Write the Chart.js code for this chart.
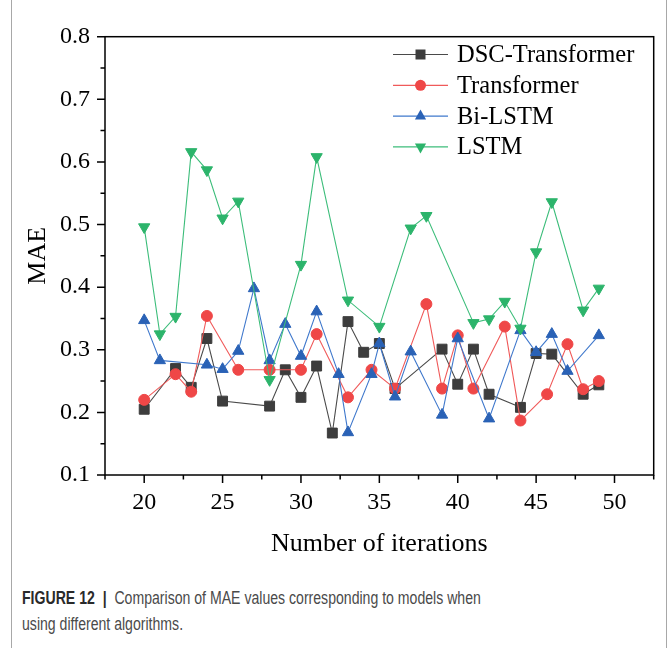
<!DOCTYPE html>
<html>
<head>
<meta charset="utf-8">
<script src="https://cdn.jsdelivr.net/npm/chart.js@4/dist/chart.umd.min.js"></script>
<style>
  body { margin: 0; background: #fff; }
  #wrap { position: relative; width: 669px; height: 648px; overflow: hidden; }
  #frame { position: absolute; left: 11px; top: -2px; width: 654px; height: 660px;
           border-left: 1px solid #a8a8a8; border-right: 1px solid #a8a8a8; }
  #chart { position: absolute; left: 0; top: 0; }
  #caption { position: absolute; left: 22px; top: 585px; font-family: "Liberation Sans", Arial, sans-serif;
             font-size: 17.5px; line-height: 26px; color: #4a4a4a; white-space: nowrap;
             transform-origin: 0 0; transform: scaleX(0.805); }
  #caption b { color: #2a2a2a; }
</style>
</head>
<body>
<div id="wrap">
  <div id="frame"></div>
  <canvas id="chart" width="669" height="560"></canvas>
  <div id="caption"><b>FIGURE 12 &nbsp;|&nbsp; </b>Comparison of MAE values corresponding to models when<br>using different algorithms.</div>
</div>
<script>
// valeurs
const dscX = [20, 22, 23, 24, 25, 28, 29, 30, 31, 32, 33, 34, 35, 36, 39, 40, 41, 42, 44, 45, 46, 48, 49];
const dscY = [0.205, 0.270, 0.240, 0.318, 0.218, 0.210, 0.268, 0.224, 0.274, 0.167, 0.345, 0.296, 0.310, 0.238, 0.301, 0.245, 0.301, 0.229, 0.208, 0.294, 0.293, 0.229, 0.244];

const trX = [20, 22, 23, 24, 26, 28, 30, 31, 33, 34.5, 36, 38, 39, 40, 41, 43, 44, 45.7, 47, 48, 49];
const trY = [0.220, 0.261, 0.233, 0.354, 0.268, 0.268, 0.268, 0.325, 0.224, 0.268, 0.238, 0.373, 0.238, 0.323, 0.238, 0.337, 0.187, 0.229, 0.309, 0.237, 0.250];

const biX = [20, 21, 24, 25, 26, 27, 28, 29, 30, 31, 32.4, 33, 34.5, 35, 36, 37, 39, 40, 42, 44, 45, 46, 47, 49];
const biY = [0.347, 0.283, 0.276, 0.269, 0.298, 0.398, 0.283, 0.341, 0.290, 0.361, 0.261, 0.168, 0.261, 0.310, 0.225, 0.297, 0.196, 0.318, 0.190, 0.331, 0.296, 0.325, 0.266, 0.323];

const lstmX = [20, 21, 22, 23, 24, 25, 26, 28, 30, 31, 33, 35, 37, 38, 41, 42, 43, 44, 45, 46, 48, 49];
const lstmY = [0.496, 0.325, 0.353, 0.616, 0.587, 0.510, 0.537, 0.252, 0.436, 0.608, 0.379, 0.337, 0.494, 0.514, 0.343, 0.349, 0.377, 0.334, 0.456, 0.536, 0.363, 0.398];

const xTicks = [20, 25, 30, 35, 40, 45, 50];
const xMinor = [17.5, 22.5, 27.5, 32.5, 37.5, 42.5, 47.5, 52.5];
const yTicks = [0.1, 0.2, 0.3, 0.4, 0.5, 0.6, 0.7, 0.8];
const yMinor = [0.15, 0.25, 0.35, 0.45, 0.55, 0.65, 0.75];

const names = ['DSC-Transformer', 'Transformer', 'Bi-LSTM', 'LSTM'];
const marks = ['rect', 'circle', 'triangle', 'triangleDown'];
const fills = ['#3d3d3d', '#ef4747', '#2a62b6', '#2cb46b'];
const strokes = ['#4a4a4a', '#f05a5a', '#3f78cc', '#3cbd7a'];

const serif = 'Liberation Serif, "Times New Roman", serif';

function pts(xs, ys) {
    return xs.map((x, i) => ({ x: x, y: ys[i] }));
}

function serie(i, xs, ys) {
    let down = marks[i] == 'triangleDown';
    return {
        label: names[i],
        data: pts(xs, ys),
        borderColor: strokes[i],
        backgroundColor: fills[i],
        borderWidth: 1.1,
        pointStyle: down ? 'triangle' : marks[i],
        pointRotation: down ? 180 : 0,
        pointRadius: marks[i] == 'circle' ? 5.5 : (marks[i] == 'rect' ? 7 : 6.5),
        pointBorderColor: fills[i],
        pointBackgroundColor: fills[i],
        pointBorderWidth: 1,
        tension: 0,
        order: 4 - i
    };
}

function marker(ctx, kind, x, y, color) {
    ctx.save();
    ctx.fillStyle = color;
    ctx.beginPath();
    if (kind == 'rect') {
        ctx.rect(x - 5, y - 5, 10, 10);
    } else if (kind == 'circle') {
        ctx.arc(x, y, 5.5, 0, Math.PI * 2);
    } else if (kind == 'triangle') {
        ctx.moveTo(x, y - 6.5); ctx.lineTo(x + 5.6, y + 3.3); ctx.lineTo(x - 5.6, y + 3.3);
    } else {
        ctx.moveTo(x, y + 6.5); ctx.lineTo(x + 5.6, y - 3.3); ctx.lineTo(x - 5.6, y - 3.3);
    }
    ctx.closePath();
    ctx.fill();
    ctx.restore();
}

/* cadre, graduations et légende façon Origin */
const cadre = {
    id: 'cadre',
    beforeDatasetsDraw(chart) {
        const ctx = chart.ctx;
        const a = chart.chartArea;
        const sx = chart.scales.x, sy = chart.scales.y;
        ctx.save();
        ctx.strokeStyle = '#000';
        ctx.lineWidth = 1.5;
        ctx.strokeRect(a.left, a.top, a.right - a.left, a.bottom - a.top);
        ctx.beginPath();
        for (const v of xTicks) {
            let p = sx.getPixelForValue(v);
            ctx.moveTo(p, a.bottom); ctx.lineTo(p, a.bottom + 8);
        }
        for (const v of xMinor) {
            let p = sx.getPixelForValue(v);
            ctx.moveTo(p, a.bottom); ctx.lineTo(p, a.bottom + 4.5);
        }
        for (const v of yTicks) {
            let p = sy.getPixelForValue(v);
            ctx.moveTo(a.left, p); ctx.lineTo(a.left - 8, p);
        }
        for (const v of yMinor) {
            let p = sy.getPixelForValue(v);
            ctx.moveTo(a.left, p); ctx.lineTo(a.left - 4.5, p);
        }
        ctx.stroke();
        ctx.restore();
    },
    afterDraw(chart) {
        const ctx = chart.ctx;
        ctx.save();
        ctx.font = '24.5px ' + serif;
        ctx.textBaseline = 'middle';
        ctx.fillStyle = '#000';
        for (let i = 0; i < names.length; i++) {
            let y = 54.5 + i * 30.8;
            ctx.strokeStyle = strokes[i];
            ctx.lineWidth = 1.2;
            ctx.beginPath();
            ctx.moveTo(393, y); ctx.lineTo(448, y);
            ctx.stroke();
            marker(ctx, marks[i], 420.5, y, fills[i]);
            ctx.fillText(names[i], 457, y + 1);
        }
        ctx.restore();
    }
};

const chart = new Chart(document.getElementById('chart'), {
    type: 'line',
    data: {
        datasets: [
            serie(0, dscX, dscY),
            serie(1, trX, trY),
            serie(2, biX, biY),
            serie(3, lstmX, lstmY)
        ]
    },
    options: {
        responsive: false,
        animation: false,
        devicePixelRatio: 1,
        layout: { padding: { left: 0, right: 15.3, top: 36.7, bottom: 0 } },
        plugins: { legend: { display: false }, tooltip: { enabled: false } },
        scales: {
            x: {
                type: 'linear',
                min: 17.5,
                max: 52.5,
                grid: { display: false, drawTicks: false },
                border: { display: false },
                afterBuildTicks: (s) => { s.ticks = xTicks.map(v => ({ value: v })); },
                afterFit: (s) => { s.height = 85; },
                ticks: {
                    font: { family: serif, size: 24 },
                    color: '#000',
                    padding: 13,
                    maxRotation: 0,
                    autoSkip: false
                },
                title: {
                    display: true,
                    text: 'Number of iterations',
                    font: { family: serif, size: 26 },
                    color: '#000',
                    padding: 0
                }
            },
            y: {
                min: 0.1,
                max: 0.8,
                grid: { display: false, drawTicks: false },
                border: { display: false },
                afterBuildTicks: (s) => { s.ticks = yTicks.map(v => ({ value: v })); },
                afterFit: (s) => { s.width = 105; },
                ticks: {
                    font: { family: serif, size: 24 },
                    color: '#000',
                    padding: 15,
                    callback: (v) => Number(v).toFixed(1)
                },
                title: {
                    display: true,
                    text: 'MAE',
                    font: { family: serif, size: 26 },
                    color: '#000',
                    padding: { top: 23, bottom: 0 }
                }
            }
        }
    },
    plugins: [cadre]
});
</script>
</body>
</html>
